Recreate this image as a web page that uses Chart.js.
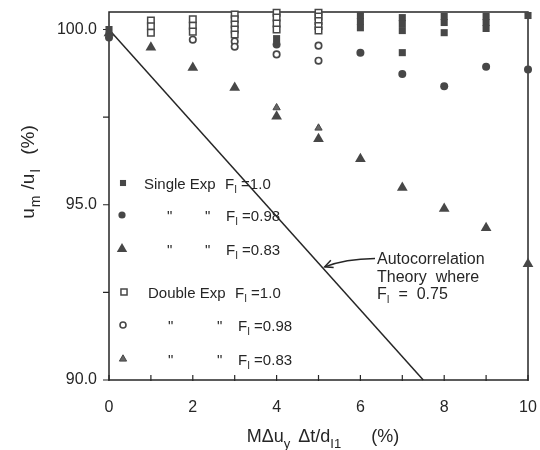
<!DOCTYPE html>
<html><head><meta charset="utf-8">
<script src="https://cdn.jsdelivr.net/npm/chart.js@4.4.1/dist/chart.umd.min.js"></script>
<style>html,body{margin:0;padding:0;background:#fff}canvas{display:block}</style>
</head><body>
<canvas id="c" width="540" height="450"></canvas>
<script>
// ---- axis ticks ----
const xTicks = [0,1,2,3,4,5,6,7,8,9,10];
const xTickLabels = ['0','','2','','4','','6','','8','','10'];
const yTicks = [90, 92.5, 95, 97.5, 100];
const yTickLabels = ['90.0','','95.0','','100.0'];

// ---- series (x = MΔu_y Δt/d_I1 %, y = u_m/u_I %) ----
const singleF100 = [
  {x:0,y:100.0},{x:4,y:99.74},
  {x:6,y:100.40},{x:6,y:100.23},{x:6,y:100.05},
  {x:7,y:100.34},{x:7,y:100.17},{x:7,y:99.97},{x:7,y:99.34},
  {x:8,y:100.37},{x:8,y:100.20},{x:8,y:99.91},
  {x:9,y:100.37},{x:9,y:100.20},{x:9,y:100.03},
  {x:10,y:100.40}
];
const singleF098 = [
  {x:0,y:99.77},{x:4,y:99.57},{x:6,y:99.34},{x:7,y:98.73},
  {x:8,y:98.38},{x:9,y:98.94},{x:10,y:98.86}
];
const singleF083 = [
  {x:0,y:99.90},{x:1,y:99.49},{x:2,y:98.91},{x:3,y:98.34},{x:4,y:97.52},
  {x:5,y:96.88},{x:6,y:96.31},{x:7,y:95.49},{x:8,y:94.89},{x:9,y:94.34},{x:10,y:93.31}
];
const doubleF100 = [
  {x:1,y:100.26},{x:1,y:100.09},{x:1,y:99.91},
  {x:2,y:100.29},{x:2,y:100.11},{x:2,y:99.94},
  {x:3,y:100.43},{x:3,y:100.29},{x:3,y:100.14},{x:3,y:100.0},{x:3,y:99.86},
  {x:4,y:100.48},{x:4,y:100.34},{x:4,y:100.17},{x:4,y:100.0},
  {x:5,y:100.48},{x:5,y:100.37},{x:5,y:100.24},{x:5,y:100.10},{x:5,y:99.97}
];
const doubleF098 = [
  {x:2,y:99.71},{x:3,y:99.66},{x:3,y:99.51},{x:4,y:99.29},{x:5,y:99.54},{x:5,y:99.11}
];
const doubleF083 = [
  {x:4,y:97.77},{x:5,y:97.19}
];
const theoryLine = [{x:0,y:100},{x:7.5,y:90}];

// ---- texts ----
const legendNames = ['Single Exp', '"', '"', 'Double Exp', '"', '"'];
const legendF = ['1.0','0.98','0.83','1.0','0.98','0.83'];
const annotationLines = ['Autocorrelation', 'Theory  where'];
const annotationF = '0.75';
const annotationTip = {x:5.1, y:93.2};

const FONT = '"Liberation Sans", Arial, Helvetica, sans-serif';
const INK = '#262626';
const MARK = '#474747';

function drawRich(ctx, parts, x, y) {
  let cx = x;
  for (const p of parts) {
    ctx.font = `${p.s}px ${FONT}`;
    ctx.fillText(p.t, cx, y + (p.dy || 0));
    cx += ctx.measureText(p.t).width + (p.gap || 0);
  }
  return cx;
}
function richWidth(ctx, parts) {
  let w = 0;
  for (const p of parts) { ctx.font = `${p.s}px ${FONT}`; w += ctx.measureText(p.t).width + (p.gap || 0); }
  return w;
}
function drawMarker(ctx, style, r, x, y, fill, stroke, bw) {
  ctx.beginPath();
  if (style === 'rect') { const s = r * Math.SQRT1_2; ctx.rect(x - s, y - s, 2*s, 2*s); }
  else if (style === 'circle') { ctx.arc(x, y, r, 0, Math.PI*2); }
  else if (style === 'triangle') {
    let a = 0;
    ctx.moveTo(x + Math.sin(a)*r, y - Math.cos(a)*r); a += 2*Math.PI/3;
    ctx.lineTo(x + Math.sin(a)*r, y - Math.cos(a)*r); a += 2*Math.PI/3;
    ctx.lineTo(x + Math.sin(a)*r, y - Math.cos(a)*r); ctx.closePath();
  }
  ctx.fillStyle = fill; ctx.fill();
  if (bw > 0) { ctx.lineWidth = bw; ctx.strokeStyle = stroke; ctx.stroke(); }
}
function noEdgePadding(s) {
  s.paddingTop = 0; s.paddingBottom = 0; s.paddingLeft = 0; s.paddingRight = 0;
}

const frame = {
  id: 'frame',
  beforeDraw(chart) {
    const c = chart.ctx; c.save(); c.fillStyle = '#fff'; c.fillRect(0,0,chart.width,chart.height); c.restore();
  },
  beforeDatasetsDraw(chart) {
    const c = chart.ctx, a = chart.chartArea, xs = chart.scales.x, ys = chart.scales.y;
    c.save();
    c.strokeStyle = INK; c.lineWidth = 1.5;
    c.strokeRect(a.left, a.top, a.right - a.left, a.bottom - a.top);
    c.lineWidth = 1.2;
    c.beginPath();
    for (const v of xTicks) { const px = xs.getPixelForValue(v); c.moveTo(px, a.bottom - 5); c.lineTo(px, a.bottom + 1); }
    for (const v of yTicks) { const py = ys.getPixelForValue(v); c.moveTo(a.left - 6, py); c.lineTo(a.left, py); }
    c.stroke();
    c.restore();
  },
  afterDraw(chart) {
    const c = chart.ctx, a = chart.chartArea, xs = chart.scales.x, ys = chart.scales.y;
    c.save();
    c.fillStyle = INK; c.textBaseline = 'alphabetic'; c.textAlign = 'left';
    // y title (rotated)
    const yParts = [{t:'u',s:19,gap:1},{t:'m',s:14,dy:6,gap:6},{t:'/u',s:19,gap:1},{t:'I',s:14,dy:6,gap:14},{t:'(%)',s:19}];
    c.save(); c.translate(34, 172); c.rotate(-Math.PI/2);
    drawRich(c, yParts, -richWidth(c, yParts)/2, 0);
    c.restore();
    // x title
    const xParts = [{t:'M\u0394u',s:18},{t:'y',s:13,dy:6,gap:8},{t:'\u0394t/d',s:18},{t:'I1',s:13,dy:6,gap:30},{t:'(%)',s:18}];
    drawRich(c, xParts, 323 - richWidth(c, xParts)/2, 442);
    // legend
    const L = a.left, T = a.top;
    const rows = [
      {st:'rect', r:4.3, fill:MARK, bw:0, mx:14, names:[35], fx:116},
      {st:'circle', r:3.6, fill:MARK, bw:0, mx:13, names:[58,96], fx:117},
      {st:'triangle', r:6, fill:MARK, bw:0, mx:13, names:[58,96], fx:117},
      {st:'rect', r:4.3, fill:'#fff', bw:1.5, mx:15, names:[39], fx:126},
      {st:'circle', r:3, fill:'#fff', bw:1.6, mx:14, names:[59,108], fx:129},
      {st:'triangle', r:4.2, fill:'#666', bw:1, mx:14, names:[59,108], fx:129}
    ];
    const rowY = [171, 203, 237, 280, 313, 347];
    rows.forEach((rw, i) => {
      const cy = T + rowY[i];
      drawMarker(c, rw.st, rw.r, L + rw.mx, cy, rw.fill, MARK, rw.bw);
      c.fillStyle = INK;
      c.font = `15px ${FONT}`;
      for (const nx of rw.names) c.fillText(legendNames[i], L + nx, cy + 5.5);
      drawRich(c, [{t:'F',s:15},{t:'I',s:10,dy:4},{t:' =' + legendF[i],s:15}], L + rw.fx, cy + 5.5);
    });
    // annotation
    const tx = xs.getPixelForValue(annotationTip.x), ty = ys.getPixelForValue(annotationTip.y);
    c.fillStyle = INK;
    c.font = `16px ${FONT}`;
    c.fillText(annotationLines[0], 377, 264);
    c.fillText(annotationLines[1], 377, 282);
    drawRich(c, [{t:'F',s:16},{t:'I',s:10,dy:4},{t:'  =  ' + annotationF,s:16}], 377, 299);
    c.strokeStyle = INK; c.lineWidth = 1.5;
    c.beginPath(); c.moveTo(375, 258.5); c.quadraticCurveTo(345, 259, tx + 2, ty - 1); c.stroke();
    const ang = Math.atan2((ty - 1) - 259, (tx + 2) - 345);
    c.beginPath();
    c.moveTo(tx + 2 - 9*Math.cos(ang - 0.45), ty - 1 - 9*Math.sin(ang - 0.45));
    c.lineTo(tx + 2, ty - 1);
    c.lineTo(tx + 2 - 9*Math.cos(ang + 0.45), ty - 1 - 9*Math.sin(ang + 0.45));
    c.stroke();
    c.restore();
  }
};

Chart.defaults.font.family = FONT;
Chart.defaults.color = INK;

new Chart(document.getElementById('c'), {
  type: 'scatter',
  data: {
    datasets: [
      {label:'Autocorrelation Theory', type:'line', data: theoryLine, borderColor: INK, borderWidth: 1.5, pointRadius: 0, fill: false, clip: false, order: 10},
      {label:'Double Exp FI=1.0', data: doubleF100, pointStyle:'rect', pointRadius:4.6, backgroundColor:'#fff', borderColor: MARK, borderWidth:1.5, clip:false},
      {label:'Double Exp FI=0.98', data: doubleF098, pointStyle:'circle', pointRadius:3.2, backgroundColor:'#fff', borderColor: MARK, borderWidth:1.7, clip:false},
      {label:'Double Exp FI=0.83', data: doubleF083, pointStyle:'triangle', pointRadius:4.2, backgroundColor:'#666', borderColor: MARK, borderWidth:1, clip:false},
      {label:'Single Exp FI=1.0', data: singleF100, pointStyle:'rect', pointRadius:5, backgroundColor: MARK, borderColor: MARK, borderWidth:0, clip:false},
      {label:'Single Exp FI=0.98', data: singleF098, pointStyle:'circle', pointRadius:4, backgroundColor: MARK, borderColor: MARK, borderWidth:0, clip:false},
      {label:'Single Exp FI=0.83', data: singleF083, pointStyle:'triangle', pointRadius:6.2, backgroundColor: MARK, borderColor: MARK, borderWidth:0, clip:false}
    ]
  },
  options: {
    responsive: false,
    animation: false,
    events: [],
    layout: {autoPadding: false, padding: {top: 12, right: 12, left: 0, bottom: 0}},
    plugins: {legend: {display: false}, tooltip: {enabled: false}},
    scales: {
      x: {
        type: 'linear', min: 0, max: 10,
        afterBuildTicks: s => { s.ticks = xTicks.map(v => ({value: v})); },
        afterFit: s => { s.height = 70; noEdgePadding(s); },
        ticks: {callback: v => xTickLabels[xTicks.indexOf(v)], padding: 18, autoSkip: false, maxRotation: 0, font: {size: 16}, color: INK},
        grid: {display: false, drawTicks: false},
        border: {display: false}
      },
      y: {
        type: 'linear', min: 90, max: 100.5,
        afterBuildTicks: s => { s.ticks = yTicks.map(v => ({value: v})); },
        afterFit: s => { s.width = 109; noEdgePadding(s); },
        ticks: {callback: v => yTickLabels[yTicks.indexOf(v)], padding: 12, autoSkip: false, font: {size: 16}, color: INK},
        grid: {display: false, drawTicks: false},
        border: {display: false}
      }
    }
  },
  plugins: [frame]
});
</script>
</body></html>
